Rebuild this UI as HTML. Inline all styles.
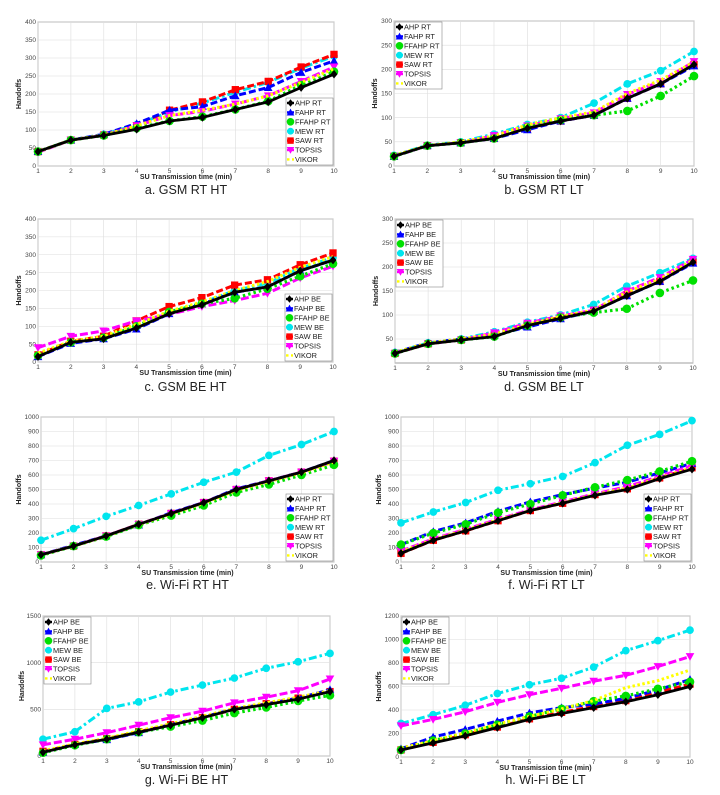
<!DOCTYPE html>
<html><head><meta charset="utf-8">
<style>
html,body{margin:0;padding:0;background:#fff;}
svg{display:block;font-family:"Liberation Sans",Arial,sans-serif;}
</style></head>
<body>
<svg id="fig" width="720" height="795" viewBox="0 0 720 795" xmlns="http://www.w3.org/2000/svg"></svg>
<script>
const categories = [1,2,3,4,5,6,7,8,9,10];
const seriesNames = ["AHP","FAHP","FFAHP","MEW","SAW","TOPSIS","VIKOR"];
// order: AHP, FAHP, FFAHP, MEW, SAW, TOPSIS, VIKOR
const aValues = [
 [40,72,85,102,125,135,157,178,218,255],
 [40,72,88,118,155,165,195,218,260,292],
 [40,72,85,105,125,137,157,180,225,262],
 [40,72,88,115,150,175,205,232,272,305],
 [40,72,86,112,155,178,212,235,275,310],
 [38,72,85,112,140,152,172,195,235,275],
 [40,72,86,112,140,155,172,195,232,270]];
const bValues = [
 [20,42,48,57,78,93,105,140,170,210],
 [20,42,48,57,75,93,105,140,170,207],
 [20,42,48,57,80,95,105,114,145,186],
 [22,43,50,66,86,100,130,170,197,237],
 [20,42,48,57,78,93,105,140,170,210],
 [20,42,48,63,83,98,110,148,175,216],
 [22,42,50,62,85,100,112,150,178,215]];
const cValues = [
 [15,55,65,95,135,160,195,210,255,285],
 [15,52,65,92,135,162,195,210,255,285],
 [18,55,68,100,140,163,178,205,240,275],
 [18,55,68,97,138,165,200,220,262,292],
 [20,58,72,115,155,180,215,230,272,305],
 [40,72,87,115,133,155,172,192,235,268],
 [25,58,72,105,142,168,200,225,265,295]];
const dValues = [
 [20,40,48,55,78,93,108,140,170,210],
 [22,42,50,58,75,92,108,140,170,208],
 [20,40,48,55,78,95,105,113,146,172],
 [22,42,50,65,85,100,122,160,188,218],
 [20,40,48,58,80,95,110,142,170,210],
 [20,40,48,63,83,98,110,150,178,216],
 [22,42,50,60,80,97,110,148,175,214]];
const eValues = [
 [50,110,180,260,335,410,500,560,620,700],
 [50,115,180,255,340,410,505,560,620,700],
 [45,110,175,255,320,390,480,535,600,670],
 [150,230,315,390,470,550,620,735,810,900],
 [50,110,180,260,335,410,500,560,620,695],
 [50,110,180,260,335,410,500,560,620,695],
 [50,110,178,258,332,405,495,555,615,690]];
const fValues = [
 [60,150,215,285,355,405,460,500,575,640],
 [120,210,270,350,415,465,510,550,615,680],
 [120,200,260,340,400,460,515,565,625,695],
 [270,345,410,495,540,590,685,805,880,975],
 [60,150,215,285,355,405,465,505,580,650],
 [75,160,225,295,360,415,470,520,590,665],
 [70,155,220,290,355,410,465,510,580,650]];
const gValues = [
 [40,120,180,255,330,410,500,550,610,690],
 [40,125,175,250,335,415,505,555,620,710],
 [35,115,180,255,315,380,460,520,590,650],
 [180,260,510,580,685,760,835,940,1010,1100],
 [50,125,185,260,335,410,500,560,620,690],
 [120,180,250,330,410,480,570,630,700,825],
 [55,130,190,270,345,425,510,570,630,700]];
const hValues = [
 [60,120,180,250,320,370,420,470,530,600],
 [70,170,235,305,375,420,450,500,570,660],
 [60,140,200,275,345,410,475,520,580,640],
 [285,360,440,540,615,670,765,905,990,1080],
 [60,125,190,255,325,380,430,480,550,620],
 [265,320,385,465,530,585,645,695,770,855],
 [75,140,205,280,345,410,480,590,650,740]];
const ticks400 = [0,50,100,150,200,250,300,350,400];
const ticks300 = [0,50,100,150,200,250,300];
const ticks300b = [50,100,150,200,250,300];
const ticks1000 = [0,100,200,300,400,500,600,700,800,900,1000];
const ticks1500 = [0,500,1000,1500];
const ticks1200 = [0,200,400,600,800,1000,1200];

const NS="http://www.w3.org/2000/svg";
const svg=document.getElementById('fig');
function mk(tag,attrs,parent){const e=document.createElementNS(NS,tag);for(const k in attrs)e.setAttribute(k,attrs[k]);(parent||svg).appendChild(e);return e;}

const styles=[
 {c:"#000000",d:"",w:2.8,m:"diamond"},
 {c:"#0000ff",d:"7,3",w:3,m:"tri"},
 {c:"#00e000",d:"2.5,3",w:3.2,m:"circle"},
 {c:"#00e5ee",d:"8,3,2.5,3",w:3,m:"star"},
 {c:"#ff0000",d:"7,3",w:3,m:"square"},
 {c:"#ff00ff",d:"8,3",w:3,m:"tridown"},
 {c:"#ffff00",d:"2.5,2.5",w:3,m:"none"}];
const drawOrder=[3,4,1,5,2,6,0];

function marker(g,type,x,y,c,s){
 s=s||4.3;
 if(type==="diamond")mk('polygon',{points:`${x},${y-s} ${x+s*0.8},${y} ${x},${y+s} ${x-s*0.8},${y}`,fill:c},g);
 else if(type==="tri")mk('polygon',{points:`${x},${y-s} ${x+s},${y+s*0.8} ${x-s},${y+s*0.8}`,fill:c},g);
 else if(type==="tridown")mk('polygon',{points:`${x},${y+s} ${x+s},${y-s*0.8} ${x-s},${y-s*0.8}`,fill:c},g);
 else if(type==="circle")mk('circle',{cx:x,cy:y,r:s,fill:c},g);
 else if(type==="square")mk('rect',{x:x-s*0.85,y:y-s*0.85,width:s*1.7,height:s*1.7,fill:c},g);
 else if(type==="star"){mk('circle',{cx:x,cy:y,r:s*0.9,fill:c},g);}
}

function panel(o){
 const g=mk('g',{});
 
 
 const L=o.L,R=o.R,T=o.T,B=o.B;
 const xs=v=>L+(v-1)/9*(R-L);
 const ys=v=>B-(v-o.ymin)/(o.ymax-o.ymin)*(B-T);
 mk('rect',{x:L,y:T,width:R-L,height:B-T,fill:"#fff",stroke:"#888","stroke-width":0.8},g);
 const grid=mk('g',{},g);
 
 
 categories.forEach(c=>{
   mk('line',{x1:xs(c),x2:xs(c),y1:T,y2:B,stroke:"#ddd","stroke-width":0.6},grid);
   const t=mk('text',{x:xs(c),y:B+7,"font-size":6.5,"text-anchor":"middle",fill:"#444"},g);t.textContent=c;
   
   
 });
 o.ticks.forEach(v=>{
   mk('line',{x1:L,x2:R,y1:ys(v),y2:ys(v),stroke:"#ddd","stroke-width":0.6},grid);
   const t=mk('text',{x:L-2,y:ys(v)+2.2,"font-size":6.5,"text-anchor":"end",fill:"#444"},g);t.textContent=v;
   
   
 });
 const xt=mk('text',{x:(L+R)/2,y:B+13,"font-size":7,"font-weight":"bold","text-anchor":"middle",fill:"#222"},g);
 xt.textContent="SU Transmission time  (min)";
 
 
 const yx=L-o.ylOff, yy=(T+B)/2;
 const yt=mk('text',{x:yx,y:yy,"font-size":7,"font-weight":"bold","text-anchor":"middle",fill:"#222",transform:`rotate(-90 ${yx} ${yy})`},g);
 yt.textContent="Handoffs";
 
 
 drawOrder.forEach(si=>{
   const st=styles[si], vals=o.values[si];
   const sg=mk('g',{},g);
   
   
   const pts=vals.map((v,i)=>xs(categories[i])+","+ys(v)).join(" ");
   const pl=mk('polyline',{points:pts,fill:"none",stroke:st.c,"stroke-width":st.w,"stroke-dasharray":st.d},sg);
   
   
   vals.forEach((v,i)=>marker(sg,st.m,xs(categories[i]),ys(v),st.c));
 });
 const lw=47,lh=67;
 const lx=o.legPos==="br"?R-lw-1:L+1, ly=o.legPos==="br"?B-lh-1:T+1;
 const lg=mk('g',{},g);
 
 
 mk('rect',{x:lx,y:ly,width:lw,height:lh,fill:"#fff",stroke:"#888","stroke-width":0.6},lg);
 seriesNames.forEach((n,i)=>{
   const ry=ly+5+i*9.4, st=styles[i];
   const e=mk('g',{},lg);
   
   
   mk('line',{x1:lx+1,x2:lx+8,y1:ry,y2:ry,stroke:st.c,"stroke-width":2.4,"stroke-dasharray":st.d},e);
   marker(e,st.m,lx+4.5,ry,st.c,3.8);
   const label=(n==="TOPSIS"||n==="VIKOR")?n:n+" "+o.suffix;
   const t=mk('text',{x:lx+9,y:ry+2.6,"font-size":7.4,fill:"#222"},e);t.textContent=label;
 });
 const cap=mk('text',{x:(L+R)/2,y:o.capY,"font-size":12.5,"text-anchor":"middle",fill:"#222"},g);
 cap.textContent=o.caption;
 
 
}

panel({name:"panel-a",L:38,R:334,T:22,B:166,ymin:0,ymax:400,ticks:ticks400,values:aValues,legPos:"br",suffix:"RT",caption:"a. GSM RT HT",capY:194,ylOff:17});
panel({name:"panel-b",L:394,R:694,T:21,B:166,ymin:0,ymax:300,ticks:ticks300,values:bValues,legPos:"tl",suffix:"RT",caption:"b. GSM RT LT",capY:194,ylOff:17});
panel({name:"panel-c",L:38,R:333,T:219,B:362,ymin:0,ymax:400,ticks:ticks400,values:cValues,legPos:"br",suffix:"BE",caption:"c. GSM BE HT",capY:391,ylOff:17});
panel({name:"panel-d",L:395,R:693,T:219,B:363,ymin:0,ymax:300,ticks:ticks300b,values:dValues,legPos:"tl",suffix:"BE",caption:"d. GSM BE LT",capY:391,ylOff:17});
panel({name:"panel-e",L:41,R:334,T:417,B:562,ymin:0,ymax:1000,ticks:ticks1000,values:eValues,legPos:"br",suffix:"RT",caption:"e. Wi-Fi RT HT",capY:589,ylOff:20});
panel({name:"panel-f",L:401,R:692,T:417,B:562,ymin:0,ymax:1000,ticks:ticks1000,values:fValues,legPos:"br",suffix:"RT",caption:"f. Wi-Fi RT LT",capY:589,ylOff:20});
panel({name:"panel-g",L:43,R:330,T:616,B:756,ymin:0,ymax:1500,ticks:ticks1500,values:gValues,legPos:"tl",suffix:"BE",caption:"g. Wi-Fi BE HT",capY:784,ylOff:19});
panel({name:"panel-h",L:401,R:690,T:616,B:757,ymin:0,ymax:1200,ticks:ticks1200,values:hValues,legPos:"tl",suffix:"BE",caption:"h. Wi-Fi BE LT",capY:784,ylOff:20});
</script>
</body></html>
